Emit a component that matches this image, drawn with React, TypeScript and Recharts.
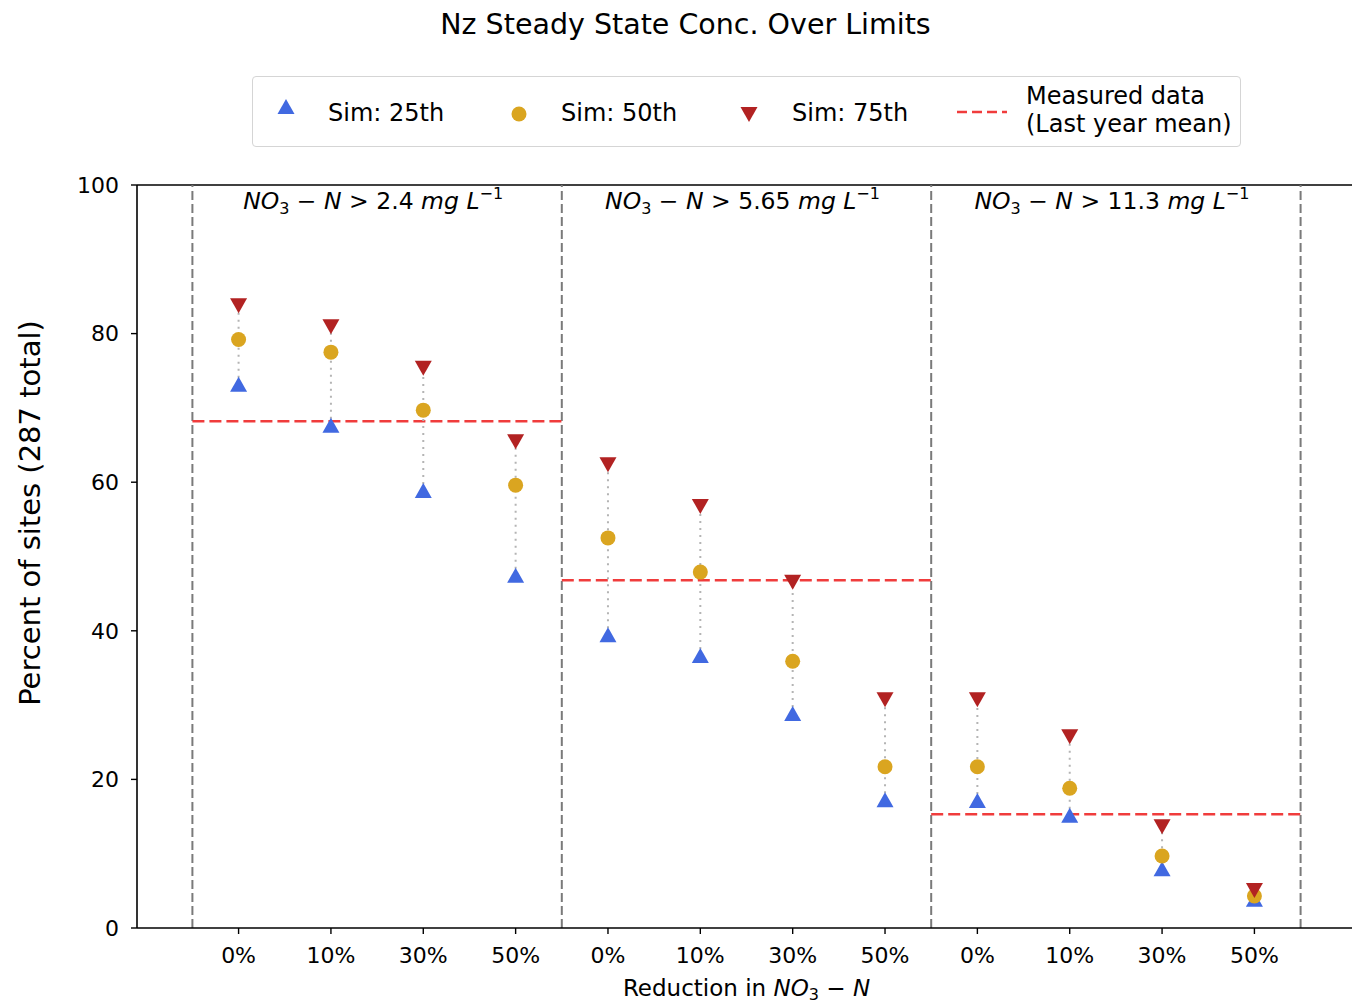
import React from 'react';
import { ComposedChart, Scatter, XAxis, YAxis, ReferenceLine, Legend } from 'recharts';

// Reduction scenarios along the x axis (repeated once per threshold group)
const categories = ['0%', '10%', '30%', '50%', '0%', '10%', '30%', '50%', '0%', '10%', '30%', '50%'];
// Simulated percent of sites over the limit: 25th / 50th / 75th percentiles
const sim25 = [73.1, 67.6, 58.8, 47.4, 39.4, 36.6, 28.8, 17.2, 17.1, 15.1, 7.9, 3.8];
const sim50 = [79.2, 77.5, 69.7, 59.6, 52.5, 47.9, 35.9, 21.7, 21.7, 18.8, 9.7, 4.3];
const sim75 = [83.8, 81.0, 75.4, 65.5, 62.4, 56.8, 46.6, 30.8, 30.8, 25.8, 13.7, 5.1];
// Threshold groups and the measured (last year mean) value for each
const thresholds = ['2.4', '5.65', '11.3'];
const measured = [68.2, 46.8, 15.3];
const yTicks = [0, 20, 40, 60, 80, 100];
const groupSize = 4;

const FONT = '"DejaVu Sans", sans-serif';
const BLUE = '#4169e1';
const GOLD = '#daa520';
const RED = '#b22222';
const MEAS = '#f03c3c';

const toPoints = (arr: number[]) => arr.map((y, i) => ({ x: i, y }));
const xTicks = categories.map((_, i) => i);
const groupEdges = [...thresholds.map((_, g) => g * groupSize - 0.5), thresholds.length * groupSize - 0.5];

const TriUp = (props: any) => {
  const { cx, cy } = props;
  return <path d={`M${cx},${cy - 8} L${cx + 8.5},${cy + 7} L${cx - 8.5},${cy + 7} Z`} fill={BLUE} />;
};
const TriDown = (props: any) => {
  const { cx, cy } = props;
  return <path d={`M${cx},${cy + 8} L${cx + 8.5},${cy - 7} L${cx - 8.5},${cy - 7} Z`} fill={RED} />;
};
const Dot = (props: any) => {
  const { cx, cy } = props;
  return <circle cx={cx} cy={cy} r={7.5} fill={GOLD} />;
};

const GroupLabel = (value: string) => (props: any) => {
  const vb = props.viewBox || {};
  return (
    <text x={vb.x - 4} y={vb.y + 24} textAnchor="middle" fontFamily={FONT} fontSize={23.5} fill="#000">
      <tspan fontStyle="italic">NO</tspan>
      <tspan fontSize={16} dy={5}>3</tspan>
      <tspan dy={-5}>{' \u2212 '}</tspan>
      <tspan fontStyle="italic">N</tspan>
      <tspan>{` > ${value} `}</tspan>
      <tspan fontStyle="italic">mg L</tspan>
      <tspan fontSize={16} dy={-10}>{'\u22121'}</tspan>
    </text>
  );
};

const LegendBox = () => (
  <div
    style={{
      width: 989,
      height: 71,
      boxSizing: 'border-box',
      border: '1.5px solid #d5d5d5',
      borderRadius: 4,
      background: '#fff',
    }}
  >
    <svg width={986} height={68} style={{ display: 'block' }}>
      <g fontFamily={FONT} fontSize={24} fill="#000">
        <path d="M33,29 L41.5,44 L24.5,44 Z" fill={BLUE} transform="translate(0,-7)" />
        <text x={75} y={44}>Sim: 25th</text>
        <circle cx={266} cy={37} r={7.5} fill={GOLD} />
        <text x={308} y={44}>Sim: 50th</text>
        <path d="M496,45 L504.5,30 L487.5,30 Z" fill={RED} />
        <text x={539} y={44}>Sim: 75th</text>
        <line x1={704} x2={754} y1={35} y2={35} stroke={MEAS} strokeWidth={2.5} strokeDasharray="10 5" />
        <text x={773} y={27}>Measured data</text>
        <text x={773} y={55}>(Last year mean)</text>
      </g>
    </svg>
  </div>
);

export default function App() {
  return (
    <div
      style={{
        position: 'absolute',
        left: 0,
        top: 0,
        width: 1352,
        height: 1003,
        overflow: 'hidden',
        background: '#fff',
        fontFamily: FONT,
      }}
    >
      <div
        style={{
          position: 'absolute',
          left: 0,
          top: 6,
          width: 1371,
          textAlign: 'center',
          fontSize: 28.5,
          lineHeight: '38px',
          color: '#000',
        }}
      >
        Nz Steady State Conc. Over Limits
      </div>
      <ComposedChart
        width={1360}
        height={1003}
        margin={{ top: 185, right: 4, bottom: 35, left: 77 }}
      >
        <XAxis
          type="number"
          dataKey="x"
          domain={[-1.1, 12.1]}
          ticks={xTicks}
          interval={0}
          allowDataOverflow
          tickFormatter={(v: number) => categories[v] ?? ''}
          tick={{ fontFamily: FONT, fontSize: 22, fill: '#000' }}
          tickSize={6}
          tickMargin={13}
          height={40}
          axisLine={{ stroke: '#000', strokeWidth: 1.6 }}
          tickLine={{ stroke: '#000', strokeWidth: 1.4 }}
          label={(p: any) => {
            const vb = p.viewBox || {};
            const cx = vb.x + vb.width / 2;
            return (
              <text x={cx} y={996} textAnchor="middle" fontFamily={FONT} fontSize={23} fill="#000">
                <tspan>{'Reduction in '}</tspan>
                <tspan fontStyle="italic">NO</tspan>
                <tspan fontSize={16} dy={4}>3</tspan>
                <tspan dy={-4}>{' \u2212 '}</tspan>
                <tspan fontStyle="italic">N</tspan>
              </text>
            );
          }}
        />
        <YAxis
          type="number"
          dataKey="y"
          domain={[0, 100]}
          ticks={yTicks}
          interval={0}
          allowDataOverflow
          width={60}
          tick={{ fontFamily: FONT, fontSize: 22, fill: '#000' }}
          tickSize={6}
          tickMargin={12}
          axisLine={{ stroke: '#000', strokeWidth: 1.6 }}
          tickLine={{ stroke: '#000', strokeWidth: 1.4 }}
          label={() => (
            <text
              x={40}
              y={513}
              transform="rotate(-90 40 513)"
              textAnchor="middle"
              fontFamily={FONT}
              fontSize={29}
              fill="#000"
            >
              Percent of sites (287 total)
            </text>
          )}
        />
        <Legend
          layout="horizontal"
          verticalAlign="middle"
          align="center"
          content={() => <LegendBox />}
          wrapperStyle={{ top: 76, left: 252, width: 989, height: 71 }}
        />

        {/* top spine */}
        <ReferenceLine y={100} stroke="#000" strokeWidth={1.6} />

        {/* group separators */}
        {groupEdges.map((x, i) => (
          <ReferenceLine key={`edge-${i}`} x={x} stroke="#7a7a7a" strokeWidth={2} strokeDasharray="9 4" />
        ))}

        {/* group titles */}
        {thresholds.map((t, g) => (
          <ReferenceLine
            key={`title-${g}`}
            x={g * groupSize + 1.5}
            stroke="none"
            label={GroupLabel(t)}
          />
        ))}

        {/* measured data per group */}
        {measured.map((m, g) => (
          <ReferenceLine
            key={`meas-${g}`}
            segment={[
              { x: g * groupSize - 0.5, y: m },
              { x: g * groupSize + groupSize - 0.5, y: m },
            ]}
            stroke={MEAS}
            strokeWidth={2.5}
            strokeDasharray="12 5"
          />
        ))}

        {/* 25th-75th range connectors */}
        {sim25.map((lo, i) => (
          <ReferenceLine
            key={`rng-${i}`}
            segment={[
              { x: i, y: lo },
              { x: i, y: sim75[i] },
            ]}
            stroke="#b4b4b4"
            strokeWidth={2}
            strokeDasharray="2 5"
          />
        ))}

        <Scatter name="Sim: 25th" data={toPoints(sim25)} shape={TriUp} fill={BLUE} isAnimationActive={false} />
        <Scatter name="Sim: 50th" data={toPoints(sim50)} shape={Dot} fill={GOLD} isAnimationActive={false} />
        <Scatter name="Sim: 75th" data={toPoints(sim75)} shape={TriDown} fill={RED} isAnimationActive={false} />
      </ComposedChart>
    </div>
  );
}
